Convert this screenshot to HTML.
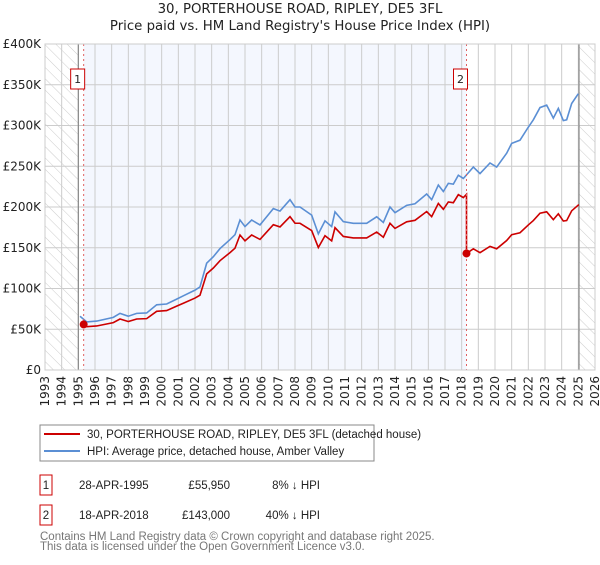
<!DOCTYPE html>
<html><head><meta charset="utf-8"><style>
body{margin:0;background:#fff;font-family:"Liberation Sans","DejaVu Sans",sans-serif;}
svg text{font-family:"DejaVu Sans","Liberation Sans",sans-serif;}
svg text.ls{font-family:"Liberation Sans","DejaVu Sans",sans-serif;}
</style></head><body>
<svg id="c" width="600" height="560" xmlns="http://www.w3.org/2000/svg">
<defs><pattern id="hatch" width="8" height="8" patternUnits="userSpaceOnUse" patternTransform="rotate(-45)"><line x1="0" y1="0" x2="0" y2="8" stroke="#ccc" stroke-width="1"/></pattern></defs>
<text x="300" y="13" text-anchor="middle" font-size="13.3" fill="#222">30, PORTERHOUSE ROAD, RIPLEY, DE5 3FL</text>
<text x="300" y="30" text-anchor="middle" font-size="13.3" fill="#222">Price paid vs. HM Land Registry's House Price Index (HPI)</text>
<g id="plot"></g>
<g id="legend">
<rect x="40" y="425" width="334" height="36" fill="#fff" stroke="#888"/>
<line x1="44" y1="434" x2="80" y2="434" stroke="#cc0000" stroke-width="2"/>
<text class="ls" x="87" y="438" font-size="11.5" fill="#222">30, PORTERHOUSE ROAD, RIPLEY, DE5 3FL (detached house)</text>
<line x1="44" y1="451" x2="80" y2="451" stroke="#5b8fd4" stroke-width="2"/>
<text class="ls" x="87" y="455" font-size="11.5" fill="#222">HPI: Average price, detached house, Amber Valley</text>
</g>
<g font-size="11.5" fill="#222">
<rect x="40" y="475" width="12" height="20" fill="#fff" stroke="#cc0000"/><text class="ls" x="46" y="489" text-anchor="middle">1</text>
<text class="ls" x="79" y="489">28-APR-1995</text><text class="ls" x="230" y="489" text-anchor="end">£55,950</text><text class="ls" x="320" y="489" text-anchor="end">8% ↓ HPI</text>
<rect x="40" y="505" width="12" height="20" fill="#fff" stroke="#cc0000"/><text class="ls" x="46" y="519" text-anchor="middle">2</text>
<text class="ls" x="79" y="519">18-APR-2018</text><text class="ls" x="230" y="519" text-anchor="end">£143,000</text><text class="ls" x="320" y="519" text-anchor="end">40% ↓ HPI</text>
</g>
<text class="ls" x="40" y="540" font-size="11.5" fill="#777">Contains HM Land Registry data © Crown copyright and database right 2025.</text>
<text class="ls" x="40" y="550" font-size="11.5" fill="#777">This data is licensed under the Open Government Licence v3.0.</text>
</svg>
<script>
const hpiYears=[1995.1,1995.5,1996.1,1997.1,1997.5,1998.0,1998.5,1999.1,1999.7,2000.3,2000.9,2001.3,2002.0,2002.3,2002.7,2003.1,2003.5,2004.1,2004.4,2004.7,2005.0,2005.4,2005.9,2006.3,2006.7,2007.1,2007.7,2008.0,2008.3,2009.0,2009.4,2009.8,2010.2,2010.4,2010.9,2011.5,2012.3,2012.9,2013.3,2013.7,2014.0,2014.7,2015.2,2015.9,2016.2,2016.6,2016.9,2017.2,2017.5,2017.8,2018.1,2018.7,2019.1,2019.7,2020.1,2020.7,2021.0,2021.5,2022.0,2022.3,2022.7,2023.1,2023.5,2023.8,2024.1,2024.3,2024.6,2025.0];
const hpiValues=[66,59,60,64.6,69.5,66,69.5,70,80,81,87,91,98,102,131,139,149,160,166,184,176,184,178,188,198,195,209,200,200,190,167,183,176,194,182,180,180,188,181,200,193,202,204,216,209,227,219,229,228,239,235,249,241,254,249,266,278,282,298,307,322,325,309,321,306,307,327,339];
const saleYears=[1995.32,2018.29];
const salePrices=[55950,143000];
const yTicks=[0,50,100,150,200,250,300,350,400];
const yTickLabels=["£0","£50K","£100K","£150K","£200K","£250K","£300K","£350K","£400K"];
const xTicks=[1993,1994,1995,1996,1997,1998,1999,2000,2001,2002,2003,2004,2005,2006,2007,2008,2009,2010,2011,2012,2013,2014,2015,2016,2017,2018,2019,2020,2021,2022,2023,2024,2025,2026];
const dataStart=1995.0, dataEnd=2025.04;

const L=45,R=595,T=44,B=370;
const X=y=>L+(y-1993)/(2026-1993)*(R-L);
const Y=v=>B-v/400*(B-T);
const NS="http://www.w3.org/2000/svg";
const g=document.getElementById('plot');
function mk(tag,attrs,parent){const e=document.createElementNS(NS,tag);for(const k in attrs)e.setAttribute(k,attrs[k]);(parent||g).appendChild(e);return e;}
function hpiAt(t){for(let i=0;i<hpiYears.length-1;i++){if(t<=hpiYears[i+1]){const f=(t-hpiYears[i])/(hpiYears[i+1]-hpiYears[i]);return hpiValues[i]+f*(hpiValues[i+1]-hpiValues[i]);}}return hpiValues[hpiValues.length-1];}

let e;
e=mk('rect',{x:L,y:T,width:R-L,height:B-T,fill:'#fff'});


e=mk('rect',{x:X(saleYears[0]),y:T,width:X(saleYears[1])-X(saleYears[0]),height:B-T,fill:'#f4f7fe'});


e=mk('rect',{x:L,y:T,width:X(dataStart)-L,height:B-T,fill:'url(#hatch)'});


e=mk('rect',{x:X(dataEnd),y:T,width:R-X(dataEnd),height:B-T,fill:'url(#hatch)'});


yTicks.forEach((v,i)=>{
  e=mk('line',{x1:L,x2:R,y1:Y(v),y2:Y(v),stroke:'#ccc','stroke-width':1});
  
  
  e=mk('text',{x:L-4,y:Y(v)+4,'text-anchor':'end','font-size':12,fill:'#222'});
  e.textContent=yTickLabels[i];
  
  
});
xTicks.forEach(yr=>{
  e=mk('line',{x1:X(yr),x2:X(yr),y1:T,y2:B,stroke:'#ccc','stroke-width':1});
  
  
  e=mk('text',{x:0,y:0,'text-anchor':'end','font-size':12,fill:'#222',transform:`translate(${X(yr)+4},${B+6}) rotate(-90)`});
  e.textContent=yr;
  
  
});
[dataStart,dataEnd].forEach(yr=>{
  e=mk('line',{x1:X(yr),x2:X(yr),y1:T,y2:B,stroke:'#888','stroke-width':1.2});
  
  
});
e=mk('polyline',{points:hpiYears.map((t,i)=>X(t)+','+Y(hpiValues[i])).join(' '),fill:'none',stroke:'#5b8fd4','stroke-width':1.6});


let pts=[];
saleYears.forEach((s,k)=>{
  const end=k+1<saleYears.length?saleYears[k+1]:dataEnd;
  const base=hpiAt(s),p=salePrices[k]/1000;
  pts.push([s,p]);
  hpiYears.forEach((t,i)=>{if(t>s&&t<end)pts.push([t,p*hpiValues[i]/base]);});
  pts.push([end,p*hpiAt(end)/base]);
});
e=mk('polyline',{points:pts.map(q=>X(q[0])+','+Y(q[1])).join(' '),fill:'none',stroke:'#cc0000','stroke-width':1.6});


saleYears.forEach((s,k)=>{
  e=mk('line',{x1:X(s),x2:X(s),y1:T,y2:B,stroke:'#e06060','stroke-width':1,'stroke-dasharray':'2,3'});
  
  
  e=mk('circle',{cx:X(s),cy:Y(salePrices[k]/1000),r:4,fill:'#cc0000'});
  
  
  e=mk('rect',{x:X(s)-13,y:69,width:14,height:20,fill:'#fff',stroke:'#cc0000'});
  
  
  e=mk('text',{x:X(s)-6,y:83,'text-anchor':'middle','font-size':11,fill:'#222'});
  e.textContent=String(k+1);
  
  
});
e=mk('rect',{x:L,y:T,width:R-L,height:B-T,fill:'none',stroke:'#ccc'});


</script>
</body></html>
